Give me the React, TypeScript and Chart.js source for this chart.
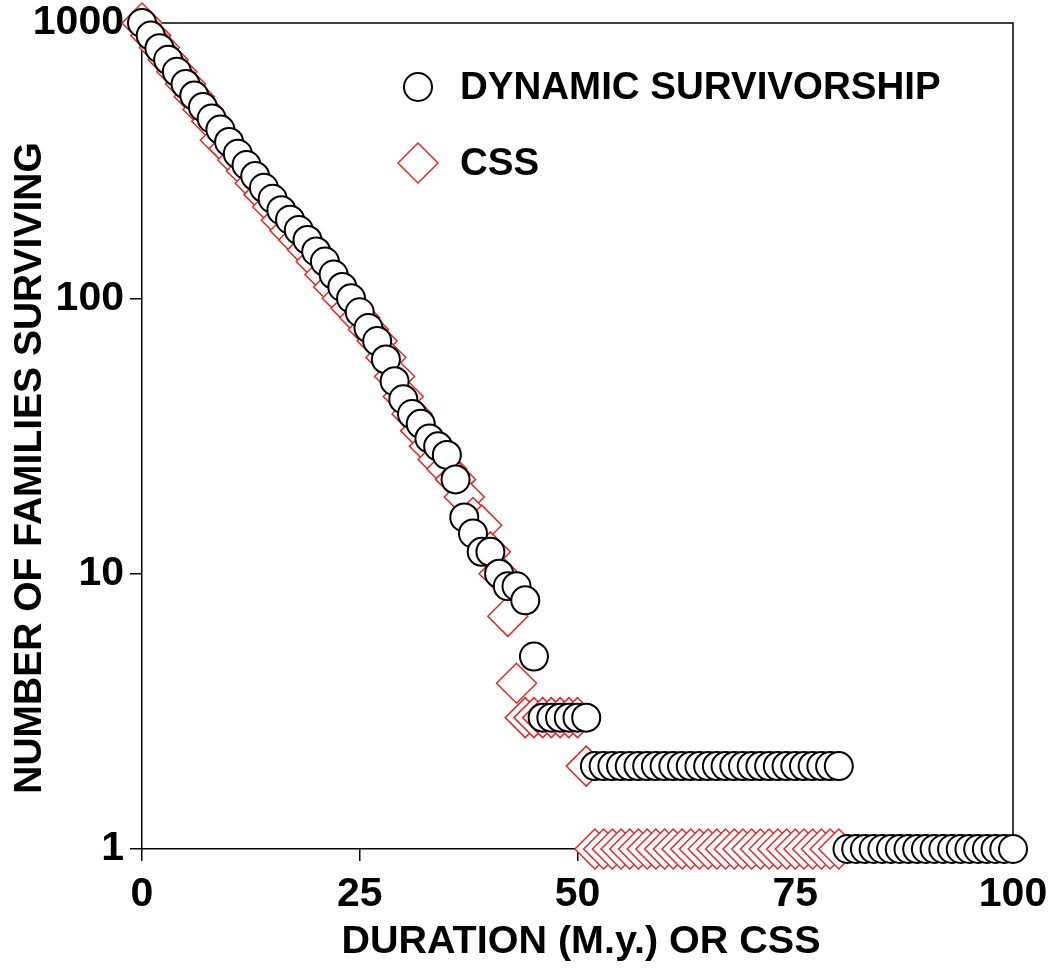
import React, { useEffect, useRef } from 'react';
import { Chart, registerables } from 'chart.js';

Chart.register(...registerables);

// Number of families surviving at each duration (index = duration in M.y.)
const dynamicSurvivors = [
  1000, 900, 810, 735, 665, 600, 545, 495, 450, 410,
  370, 335, 305, 278, 252, 230, 209, 193, 177, 163,
  148, 136, 122, 110, 100, 89, 78, 70, 60, 50,
  43, 38, 35, 31, 29, 27, 22, 16, 14, 12,
  12, 10, 9, 9, 8, 5, 3, 3, 3, 3,
  3, 3, 2, 2, 2, 2, 2, 2, 2, 2,
  2, 2, 2, 2, 2, 2, 2, 2, 2, 2,
  2, 2, 2, 2, 2, 2, 2, 2, 2, 2,
  2, 1, 1, 1, 1, 1, 1, 1, 1, 1,
  1, 1, 1, 1, 1, 1, 1, 1, 1, 1,
  1,
];

// Number of families surviving at each CSS (index = CSS)
const cssSurvivors = [
  1000, 900, 815, 735, 665, 600, 540, 485, 440, 375,
  350, 318, 290, 262, 238, 215, 192, 176, 163, 150,
  136, 122, 110, 100, 92, 85, 77, 70, 61, 52,
  44, 38, 33, 29, 26, 24, 22, 19, 16, 15,
  12, 10, 7, 4, 3, 3, 3, 3, 3, 3,
  3, 2, 1, 1, 1, 1, 1, 1, 1, 1,
  1, 1, 1, 1, 1, 1, 1, 1, 1, 1,
  1, 1, 1, 1, 1, 1, 1, 1, 1, 1,
  1,
];

const xTicks = [0, 25, 50, 75, 100];
const yTicks = [1, 10, 100, 1000];
const seriesLabels = ['DYNAMIC SURVIVORSHIP', 'CSS'];
const xTitle = 'DURATION (M.y.) OR CSS';
const yTitle = 'NUMBER OF FAMILIES SURVIVING';

const FONT = '"Liberation Sans", Arial, Helvetica, sans-serif';
const RED = 'rgb(232, 38, 38)';

const decorPlugin = {
  id: 'decor',
  beforeDatasetsDraw(chart: any) {
    const { ctx, chartArea } = chart;
    ctx.save();
    ctx.strokeStyle = '#000';
    ctx.lineWidth = 1.5;
    ctx.beginPath();
    ctx.moveTo(chartArea.left, chartArea.top);
    ctx.lineTo(chartArea.right, chartArea.top);
    ctx.lineTo(chartArea.right, chartArea.bottom);
    ctx.stroke();
    ctx.restore();
  },
  afterDraw(chart: any) {
    const { ctx } = chart;
    ctx.save();
    ctx.fillStyle = '#000';
    ctx.textBaseline = 'middle';
    ctx.textAlign = 'center';
    // x title
    ctx.font = `bold 39.5px ${FONT}`;
    ctx.fillText(xTitle, 581, 942);
    // y title
    ctx.save();
    ctx.font = `bold 39px ${FONT}`;
    ctx.translate(30, 468);
    ctx.rotate(-Math.PI / 2);
    ctx.fillText(yTitle, 0, 0);
    ctx.restore();

    // legend
    ctx.textAlign = 'left';
    ctx.font = `bold 38.5px ${FONT}`;
    // circle
    ctx.beginPath();
    ctx.arc(418, 87, 14, 0, Math.PI * 2);
    ctx.fillStyle = '#fff';
    ctx.fill();
    ctx.lineWidth = 2;
    ctx.strokeStyle = '#000';
    ctx.stroke();
    ctx.fillStyle = '#000';
    ctx.fillText(seriesLabels[0], 460, 88);
    // diamond
    ctx.beginPath();
    ctx.moveTo(418 - 20, 163);
    ctx.lineTo(418, 163 - 20);
    ctx.lineTo(418 + 20, 163);
    ctx.lineTo(418, 163 + 20);
    ctx.closePath();
    ctx.fillStyle = '#fff';
    ctx.fill();
    ctx.lineWidth = 1.5;
    ctx.strokeStyle = RED;
    ctx.stroke();
    ctx.fillStyle = '#000';
    ctx.fillText(seriesLabels[1], 460, 164);
    ctx.restore();
  },
};

export default function App() {
  const canvasRef = useRef<HTMLCanvasElement | null>(null);

  useEffect(() => {
    if (!canvasRef.current) return;
    const chart = new Chart(canvasRef.current, {
      type: 'scatter',
      data: {
        datasets: [
          {
            label: seriesLabels[0],
            data: dynamicSurvivors.map((v, i) => ({ x: i, y: v })),
            pointStyle: 'circle',
            pointRadius: 14,
            pointBorderWidth: 2,
            pointBackgroundColor: '#fff',
            pointBorderColor: '#000',
            showLine: false,
            clip: false,
          } as any,
          {
            label: seriesLabels[1],
            data: cssSurvivors.map((v, i) => ({ x: i, y: v })),
            pointStyle: 'rectRot',
            pointRadius: 20,
            pointBorderWidth: 1.5,
            pointBackgroundColor: '#fff',
            pointBorderColor: RED,
            showLine: false,
            clip: false,
          } as any,
        ],
      },
      options: {
        animation: false,
        responsive: true,
        maintainAspectRatio: false,
        events: [],
        layout: { autoPadding: false, padding: { top: 23, right: 42, left: 0, bottom: 0 } },
        plugins: {
          legend: { display: false },
          tooltip: { enabled: false },
          title: { display: false },
        },
        scales: {
          x: {
            type: 'linear',
            min: 0,
            max: 100,
            afterBuildTicks: (scale: any) => {
              scale.ticks = xTicks.map((v) => ({ value: v }));
            },
            afterFit: (scale: any) => {
              scale.height = 128;
              scale.paddingLeft = 0;
              scale.paddingRight = 0;
            },
            ticks: {
              color: '#000',
              font: { family: FONT, size: 41, weight: 'bold' },
              padding: 9,
              maxRotation: 0,
              callback: (v: any) => String(v),
            },
            grid: {
              drawOnChartArea: false,
              drawTicks: true,
              tickLength: 12,
              color: '#000',
              lineWidth: 1.5,
            },
            border: { display: true, color: '#000', width: 1.5 },
          },
          y: {
            type: 'logarithmic',
            min: 1,
            max: 1000,
            afterBuildTicks: (scale: any) => {
              scale.ticks = yTicks.map((v) => ({ value: v }));
            },
            afterFit: (scale: any) => {
              scale.width = 142;
              scale.paddingTop = 0;
              scale.paddingBottom = 0;
            },
            ticks: {
              color: '#000',
              font: { family: FONT, size: 41, weight: 'bold' },
              padding: 6,
              callback: (v: any) => String(v),
            },
            grid: {
              drawOnChartArea: false,
              drawTicks: true,
              tickLength: 12,
              color: '#000',
              lineWidth: 1.5,
            },
            border: { display: true, color: '#000', width: 1.5 },
          },
        },
      } as any,
      plugins: [decorPlugin],
    });
    return () => chart.destroy();
  }, []);

  return (
    <div style={{ position: 'fixed', left: 0, top: 0, width: 1055, height: 977, background: '#fff' }}>
      <canvas ref={canvasRef} />
    </div>
  );
}
